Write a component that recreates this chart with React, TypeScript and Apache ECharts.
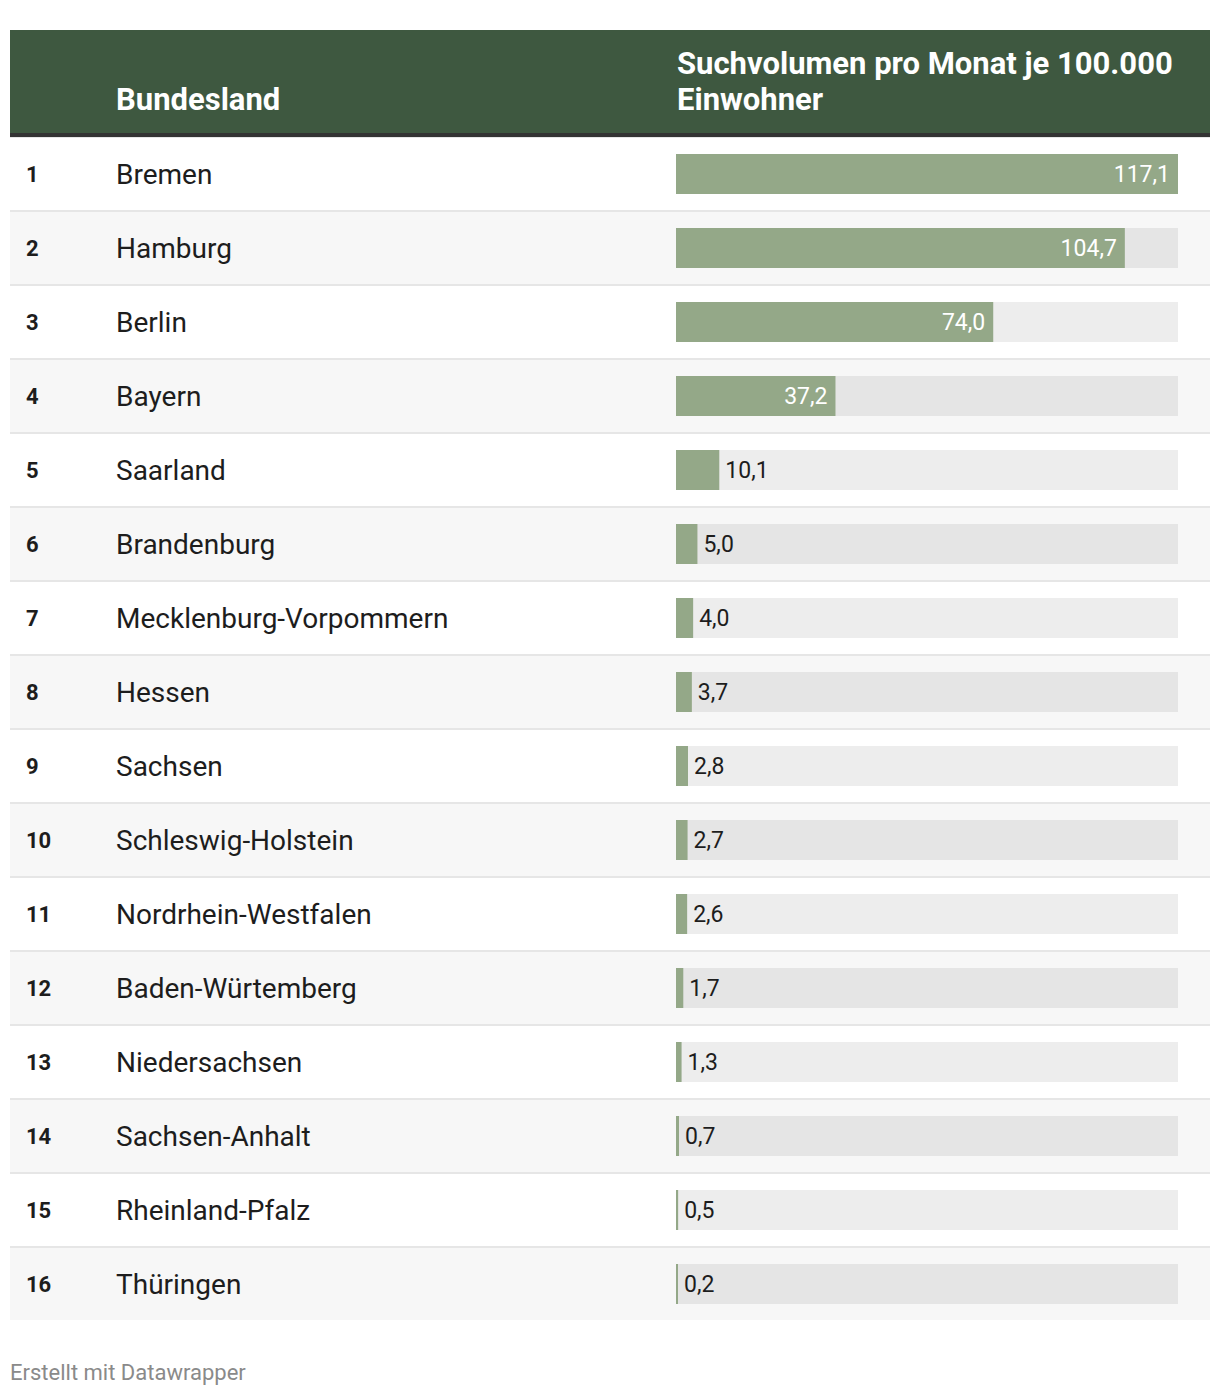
import React, { useEffect, useRef } from "react";
import * as echarts from "echarts";

const ranks = [1, 2, 3, 4, 5, 6, 7, 8, 9, 10, 11, 12, 13, 14, 15, 16];
const states = [
  "Bremen",
  "Hamburg",
  "Berlin",
  "Bayern",
  "Saarland",
  "Brandenburg",
  "Mecklenburg-Vorpommern",
  "Hessen",
  "Sachsen",
  "Schleswig-Holstein",
  "Nordrhein-Westfalen",
  "Baden-Würtemberg",
  "Niedersachsen",
  "Sachsen-Anhalt",
  "Rheinland-Pfalz",
  "Thüringen",
];
const values = [117.1, 104.7, 74.0, 37.2, 10.1, 5.0, 4.0, 3.7, 2.8, 2.7, 2.6, 1.7, 1.3, 0.7, 0.5, 0.2];
const headerLeft = "Bundesland";
const headerRight = "Suchvolumen pro Monat je 100.000\nEinwohner";
const footer = "Erstellt mit Datawrapper";

const fmt = (v: number) => v.toFixed(1).replace(".", ",");

export default function App() {
  const ref = useRef<HTMLDivElement>(null);
  useEffect(() => {
    if (!ref.current) return;
    const chart = echarts.init(ref.current, undefined, { renderer: "svg" });
    const maxV = Math.max(...values);
    const rowLabels = states.map((s, i) => `${ranks[i]}|${s}`);
    const data = values.map((v) => {
      const inside = v / maxV > 0.2;
      return {
        value: v,
        label: inside
          ? { show: true, position: "insideRight", distance: 8, color: "#ffffff" }
          : { show: true, position: "right", distance: 6, color: "#1d1d1d" },
      };
    });
    chart.setOption({
      animation: false,
      textStyle: { fontFamily: "Roboto" },
      grid: [
        { left: 10, right: 10, top: 137, height: 74 * 16, containLabel: false },
        { left: 676, right: 42, top: 137, height: 74 * 16, containLabel: false },
      ],
      xAxis: [
        { type: "value", gridIndex: 0, show: false, min: 0, max: 1 },
        { type: "value", gridIndex: 1, show: false, min: 0, max: maxV },
      ],
      yAxis: [
        {
          type: "category",
          gridIndex: 0,
          inverse: true,
          data: rowLabels,
          axisLine: { show: false },
          axisTick: { show: false },
          splitArea: { show: true, areaStyle: { color: ["#ffffff", "#f7f7f7"] } },
          splitLine: { show: true, lineStyle: { color: "#e6e6e6", width: 2 } },
          axisLabel: {
            inside: true,
            margin: 16,
            formatter: (val: string) => {
              const [r, n] = val.split("|");
              return `{r|${r}}{n|${n}}`;
            },
            rich: {
              r: {
                width: 90,
                fontSize: 22,
                fontWeight: "bold",
                color: "#1d1d1d",
                fontFamily: "Roboto",
                lineHeight: 34,
                verticalAlign: "middle",
              },
              n: {
                fontSize: 28,
                color: "#1d1d1d",
                fontFamily: "Roboto",
                lineHeight: 34,
                verticalAlign: "middle",
              },
            },
          },
        },
        {
          type: "category",
          gridIndex: 1,
          inverse: true,
          data: states,
          show: false,
        },
      ],
      series: [
        {
          type: "bar",
          xAxisIndex: 1,
          yAxisIndex: 1,
          data,
          barWidth: 40,
          barMinHeight: 2,
          showBackground: true,
          backgroundStyle: { color: "rgba(0,0,0,0.07)" },
          itemStyle: { color: "#94a888" },
          label: {
            show: true,
            fontSize: 23,
            fontFamily: "Roboto",
            formatter: (p: any) => fmt(p.value),
          },
          z: 3,
        },
      ],
      graphic: [
        { type: "rect", z: 10, shape: { x: 10, y: 30, width: 1200, height: 103 }, style: { fill: "#3e5840" } },
        { type: "rect", z: 10, shape: { x: 10, y: 133, width: 1200, height: 4 }, style: { fill: "#333333" } },
        {
          type: "text",
          z: 11,
          x: 116,
          y: 99,
          style: {
            text: headerLeft,
            fill: "#ffffff",
            font: "bold 31px Roboto",
            verticalAlign: "middle",
          },
        },
        {
          type: "text",
          z: 11,
          x: 677,
          y: 81,
          style: {
            text: headerRight,
            fill: "#ffffff",
            font: "bold 31px Roboto",
            lineHeight: 36,
            verticalAlign: "middle",
          },
        },
        { type: "rect", z: 10, shape: { x: 10, y: 1320, width: 1200, height: 3 }, style: { fill: "#ffffff" } },
        {
          type: "text",
          z: 11,
          x: 10,
          y: 1372,
          style: {
            text: footer,
            fill: "#8a8a8a",
            font: "22px Roboto",
            verticalAlign: "middle",
          },
        },
      ],
    });
    return () => chart.dispose();
  }, []);
  return (
    <div
      ref={ref}
      style={{ position: "absolute", left: 0, top: 0, width: 1220, height: 1396, background: "#ffffff" }}
    />
  );
}
